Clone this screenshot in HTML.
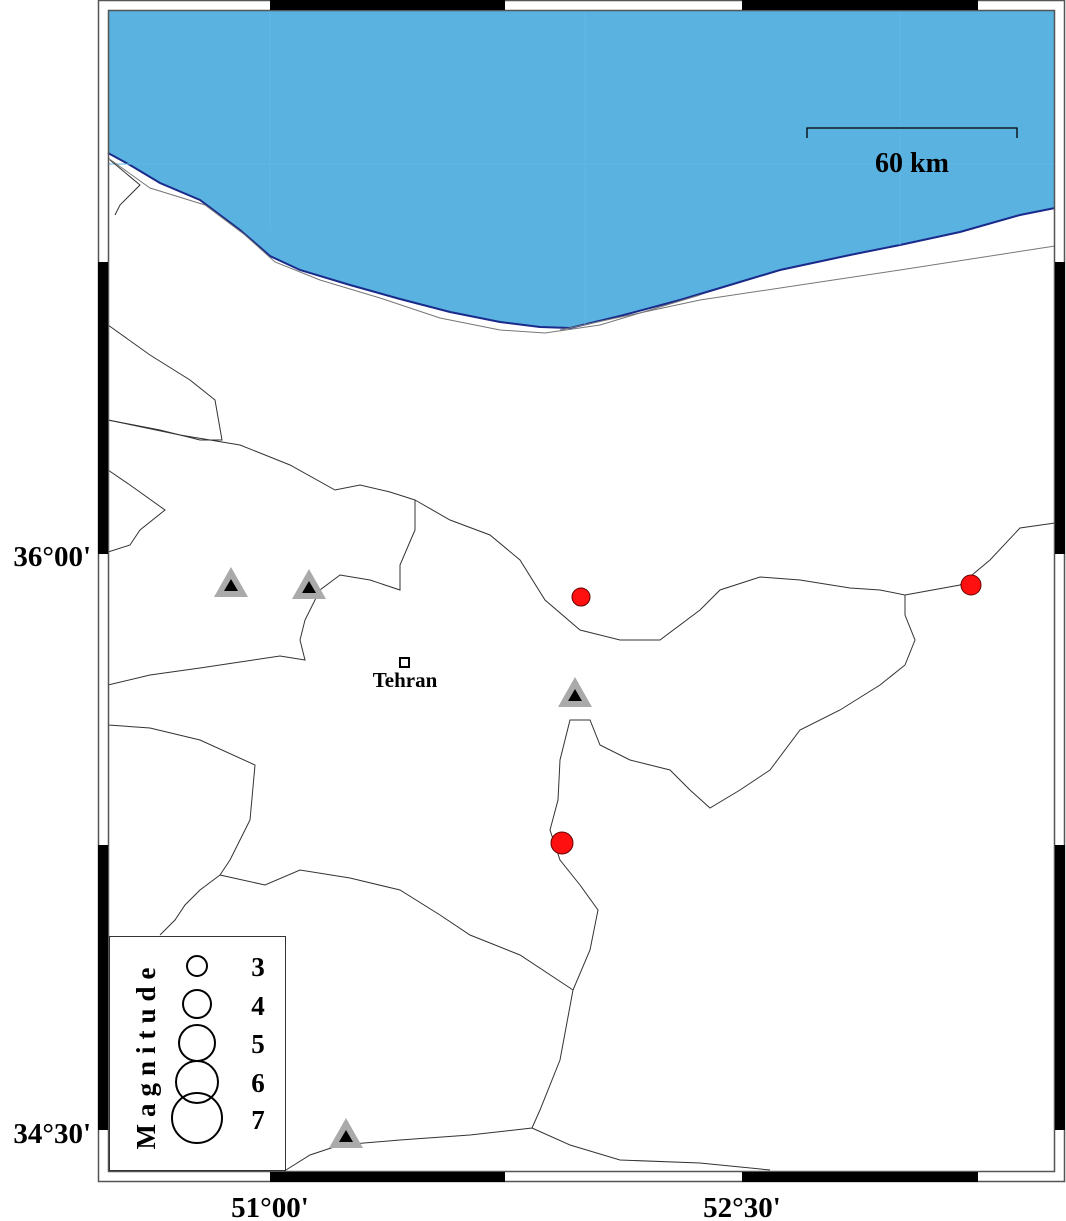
<!DOCTYPE html>
<html><head><meta charset="utf-8"><style>html,body{margin:0;padding:0;background:#fff}svg{display:block}</style></head>
<body>
<svg width="1066" height="1221" viewBox="0 0 1066 1221" xmlns="http://www.w3.org/2000/svg" font-family="Liberation Serif, serif">
<rect x="0" y="0" width="1066" height="1221" fill="#fff"/>
<path d="M108,10 H1055 V208 L1020,215 L960,232 L900,245 L850,255 L780,270 L720,288 L680,300 L620,316 L570,328 L540,327 L500,322 L450,312 L400,299 L350,285 L300,270 L270,256 L240,230 L200,200 L160,183 L130,165 L108,153 Z" fill="#5ab2e0"/>
<path d="M108,153 L130,165 L160,183 L200,200 L240,230 L270,256 L300,270 L350,285 L400,299 L450,312 L500,322 L540,327 L570,328 L620,316 L680,300 L720,288 L780,270 L850,255 L900,245 L960,232 L1020,215 L1055,208" fill="none" stroke="#1a2a8a" stroke-width="2"/>
<g stroke="#5fb8e8" stroke-width="1"><line x1="270" y1="10" x2="270" y2="230"/><line x1="585" y1="10" x2="585" y2="325"/><line x1="900" y1="10" x2="900" y2="245"/><line x1="108" y1="164" x2="1055" y2="164"/></g>
<g fill="none" stroke="#333" stroke-width="1">
<path d="M110,160 L140,185 L120,205 L115,215"/>
<path d="M108,158 L150,188 L205,205 L245,235 L275,262 L320,280 L380,298 L440,318 L500,330 L545,333 L600,325 L650,310 L700,295" stroke="#777"/>
<path d="M560,330 L700,300 L800,285 L900,270 L1055,246" stroke="#777"/>
<path d="M108,325 L150,355 L190,380 L215,400 L222,440 L200,440 L160,430 L108,420"/>
<path d="M108,420 L180,435 L240,445 L290,465 L335,490 L360,485 L390,492 L415,500 L415,530 L400,565 L400,590 L370,580 L340,575 L320,590 L305,620 L300,640 L305,660 L280,656 L240,662 L200,668 L150,675 L108,685"/>
<path d="M108,470 L130,485 L165,510 L140,530 L130,545 L108,552"/>
<path d="M415,500 L450,520 L490,535 L520,560 L545,600 L580,630 L620,640 L660,640 L700,610 L720,590 L760,577 L800,580 L850,588 L880,590 L905,595 L905,615 L915,640 L905,665 L880,685 L840,710 L800,730 L770,770 L740,790 L710,808 L690,790 L670,770 L630,760 L600,745 L590,720 L570,720 L560,760 L558,800 L550,830 L560,860 L580,885 L598,910 L590,950 L573,990 L560,1060 L540,1110 L532,1128 L470,1135 L400,1140 L340,1145 L310,1155 L286,1170"/>
<path d="M905,595 L960,585 L990,560 L1020,528 L1055,523"/>
<path d="M108,725 L150,728 L200,740 L255,765 L250,820 L230,860 L220,875 L265,885 L300,870 L350,878 L400,890 L440,915 L470,935 L520,955 L573,990"/>
<path d="M220,875 L200,890 L185,905 L175,920 L160,935"/>
<path d="M532,1128 L570,1145 L620,1160 L700,1163 L770,1170"/>
</g>
<rect x="98.5" y="0.5" width="966" height="1181" fill="none" stroke="#555" stroke-width="1.5"/>
<rect x="108.5" y="10.5" width="946" height="1161" fill="none" stroke="#555" stroke-width="1.5"/>
<g fill="#000">
<rect x="270" y="0" width="235" height="10"/><rect x="742" y="0" width="236" height="10"/>
<rect x="270" y="1172" width="235" height="10"/><rect x="742" y="1172" width="236" height="10"/>
<rect x="98" y="262" width="10" height="292"/><rect x="98" y="845" width="10" height="285"/>
<rect x="1055" y="262" width="10" height="292"/><rect x="1055" y="845" width="10" height="285"/>
</g>
<path d="M807,138 V128 H1017 V138" fill="none" stroke="#000" stroke-width="1.3"/>
<text x="912" y="172" font-size="28" font-weight="bold" text-anchor="middle">60 km</text>
<g>
<polygon points="231,567 214,597 248,597" fill="#aaa"/><polygon points="231,579 224,591 238,591" fill="#000"/>
<polygon points="309,569 292,599 326,599" fill="#aaa"/><polygon points="309,581 302,593 316,593" fill="#000"/>
<polygon points="575,677 558,707 592,707" fill="#aaa"/><polygon points="575,689 568,701 582,701" fill="#000"/>
<polygon points="346,1118 329,1148 363,1148" fill="#aaa"/><polygon points="346,1130 339,1142 353,1142" fill="#000"/>
</g>
<g fill="#ff1010" stroke="#600" stroke-width="1">
<circle cx="581" cy="597" r="9"/><circle cx="971" cy="585" r="10"/><circle cx="562" cy="843" r="11"/>
</g>
<rect x="400" y="658" width="9" height="9" fill="#fff" stroke="#000" stroke-width="2"/>
<text x="405" y="687" font-size="21" font-weight="bold" text-anchor="middle">Tehran</text>
<rect x="109.5" y="936.5" width="176" height="234" fill="#fff" stroke="#333"/>
<text transform="translate(155,1055) rotate(-90)" font-size="27" font-weight="bold" text-anchor="middle" letter-spacing="7">Magnitude</text>
<g fill="none" stroke="#000" stroke-width="2">
<circle cx="197" cy="966" r="10"/><circle cx="197" cy="1004" r="14"/><circle cx="197" cy="1043" r="18"/><circle cx="197" cy="1082" r="21"/><circle cx="197" cy="1118" r="25"/>
</g>
<g font-size="27" font-weight="bold" text-anchor="middle">
<text x="258" y="976">3</text><text x="258" y="1015">4</text><text x="258" y="1053">5</text><text x="258" y="1092">6</text><text x="258" y="1129">7</text>
</g>
<g font-size="29" font-weight="bold">
<text x="270" y="1217" text-anchor="middle">51°00'</text>
<text x="742" y="1217" text-anchor="middle">52°30'</text>
<text x="91" y="566" text-anchor="end">36°00'</text>
<text x="91" y="1143" text-anchor="end">34°30'</text>
</g>
</svg>
</body></html>
